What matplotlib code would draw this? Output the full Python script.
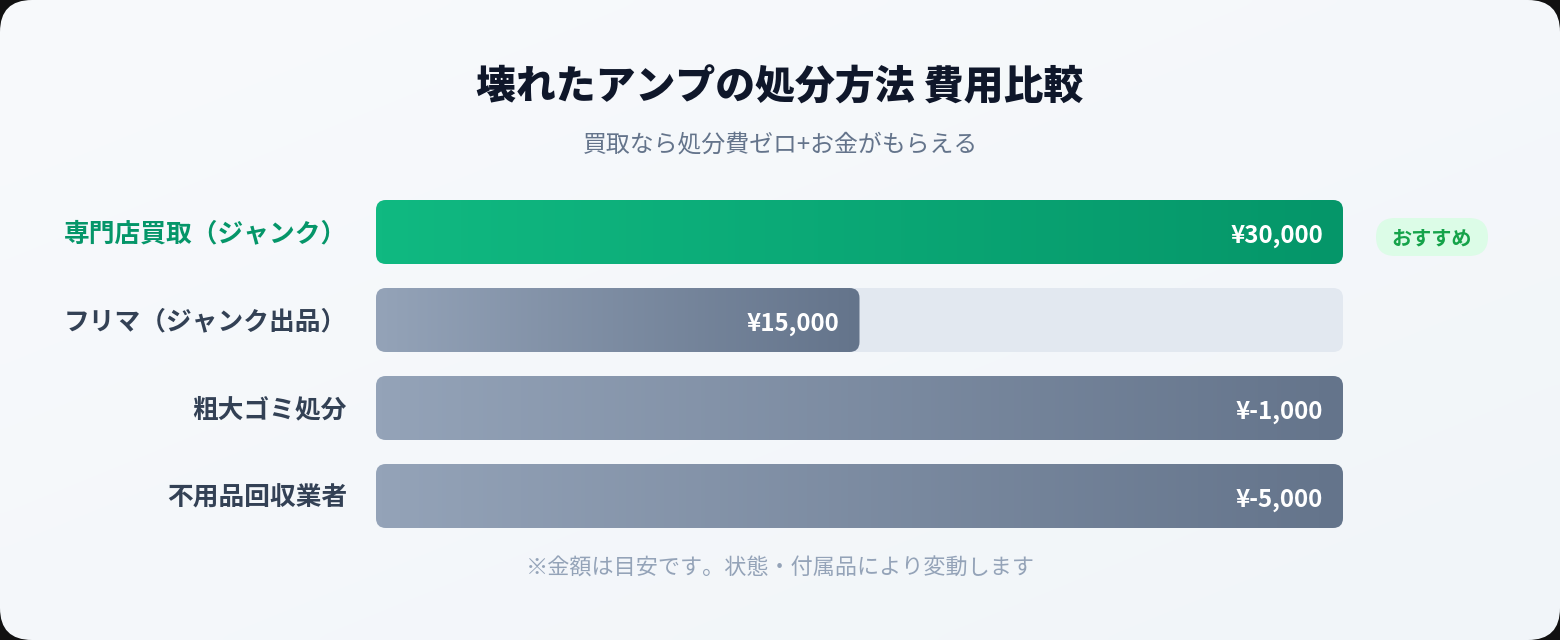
import numpy as np
import matplotlib.pyplot as plt
from matplotlib.patches import FancyBboxPatch
from matplotlib.colors import LinearSegmentedColormap

plt.rcParams['font.family'] = ['Noto Sans CJK JP', 'DejaVu Sans']

# data
methods = ["専門店買取（ジャンク）", "フリマ（ジャンク出品）", "粗大ゴミ処分", "不用品回収業者"]
amounts = [30000, 15000, -1000, -5000]
bar_pct = [100, 50, 100, 100]      # bar length as shown, % of track
recommended = [True, False, False, False]
badge_text = "おすすめ"

title = "壊れたアンプの処分方法 費用比較"
subtitle = "買取なら処分費ゼロ+お金がもらえる"
note = "※金額は目安です。状態・付属品により変動します"

W, H = 1560, 640
fig = plt.figure(figsize=(W / 100, H / 100), dpi=100)
fig.patch.set_facecolor("#111111")
ax = fig.add_axes([0, 0, 1, 1])
ax.set_xlim(0, W)
ax.set_ylim(H, 0)
ax.axis("off")


def gradient_fill(patch, x0, x1, y0, y1, c0, c1, diag=False):
    cmap = LinearSegmentedColormap.from_list("g", [c0, c1])
    if diag:
        xx, yy = np.meshgrid(np.linspace(0, 1, 200), np.linspace(0, 1, 100))
        g = (xx + yy) / 2
    else:
        g = np.linspace(0, 1, 256).reshape(1, -1)
    im = ax.imshow(g, cmap=cmap, extent=(x0, x1, y1, y0), aspect="auto",
                   interpolation="bicubic", zorder=patch.get_zorder())
    im.set_clip_path(patch)


# card
card = FancyBboxPatch((0, 0), W, H, boxstyle="round,pad=0,rounding_size=32",
                      facecolor="none", edgecolor="none", zorder=0)
ax.add_patch(card)
gradient_fill(card, 0, W, 0, H, "#f8fafc", "#f1f5f9", diag=True)
ax.set_xlim(0, W)
ax.set_ylim(H, 0)

ax.text(W / 2, 88, title, ha="center", va="center", fontsize=28.7,
        fontweight="heavy", color="#0f172a")
ax.text(W / 2, 145, subtitle, ha="center", va="center", fontsize=17.2,
        color="#64748b")

track_x = 376
track_w = 967
bar_h = 64
row0 = 232
row_gap = 88

for i, (name, amt, pct, rec) in enumerate(zip(methods, amounts, bar_pct, recommended)):
    yc = row0 + i * row_gap
    y0 = yc - bar_h / 2
    track = FancyBboxPatch((track_x, y0), track_w, bar_h,
                           boxstyle="round,pad=0,rounding_size=10",
                           facecolor="#e2e8f0", edgecolor="none", zorder=2)
    ax.add_patch(track)
    bw = track_w * pct / 100
    bar = FancyBboxPatch((track_x, y0), bw, bar_h,
                         boxstyle="round,pad=0,rounding_size=10",
                         facecolor="none", edgecolor="none", zorder=3)
    ax.add_patch(bar)
    if rec:
        gradient_fill(bar, track_x, track_x + bw, y0, y0 + bar_h, "#10b981", "#059669")
        lab_color = "#059669"
    else:
        gradient_fill(bar, track_x, track_x + bw, y0, y0 + bar_h, "#94a3b8", "#64748b")
        lab_color = "#334155"
    ax.text(track_x - 29, yc + 2, name, ha="right", va="center", fontsize=18.5,
            fontweight="bold", color=lab_color, zorder=5)
    ax.text(track_x + bw - 20, yc + 4, "¥{:,}".format(amt), ha="right", va="center",
            fontsize=17.3, fontweight="bold", color="white", zorder=5)
    if rec:
        bx = track_x + track_w + 89
        pill = FancyBboxPatch((bx - 56, yc - 14), 112, 38,
                              boxstyle="round,pad=0,rounding_size=19",
                              facecolor="#dcfce7", edgecolor="none", zorder=5)
        ax.add_patch(pill)
        ax.text(bx, yc + 6, badge_text, ha="center", va="center", fontsize=14.5,
                fontweight="bold", color="#16a34a", zorder=6)

ax.text(W / 2, 569, note, ha="center", va="center", fontsize=15.9, color="#94a3b8")

fig.savefig("out.png", dpi=100, facecolor=fig.get_facecolor())
